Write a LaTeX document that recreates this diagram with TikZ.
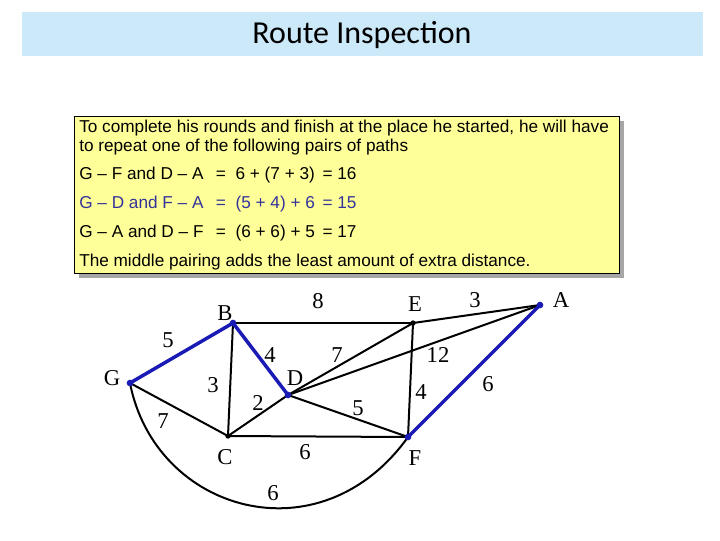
\documentclass[tikz,border=0pt]{standalone}
\usepackage{fontspec}
\setmainfont{Liberation Serif}
\newfontfamily\arialf{Liberation Sans}
\newfontfamily\calf{Carlito}
\definecolor{band}{HTML}{CCE9F9}
\definecolor{note}{HTML}{FFFF99}
\definecolor{hl}{HTML}{333399}
\definecolor{eb}{HTML}{1A1AB4}
\begin{document}
\begin{tikzpicture}[x=0.75pt,y=-0.75pt,
  edge/.style={line width=1.5pt,black},
  bedge/.style={line width=2.6pt,eb},
  vx/.style={circle,fill=eb,inner sep=0pt,minimum size=5pt},
  kvx/.style={circle,fill=black,inner sep=0pt,minimum size=4pt},
  lab/.style={font=\fontsize{17}{17}\selectfont,inner sep=0pt},
  txt/.style={font=\arialf\fontsize{12.9}{15}\selectfont,anchor=west,inner sep=0pt}]
\useasboundingbox (0,0) rectangle (720,540);
\fill[white] (0,0) rectangle (720,540);
\node[fill=band,minimum width=681*0.75pt,minimum height=44*0.75pt,inner sep=0pt] (band) at (362.5,34) {};
\node[font=\calf\fontsize{24}{24}\selectfont] (title) at (362,35) {Route Inspection};
\fill[gray!70] (79,121) rectangle (624,278);
\node[draw=black,fill=note,minimum width=545*0.75pt,minimum height=157*0.75pt,inner sep=0pt] (box) at (346.5,194.5) {};
\node[txt] (t1) at (79,128) {To complete his rounds and finish at the place he started, he will have};
\node[txt] (t2) at (79,147) {to repeat one of the following pairs of paths};
\node[txt] (t3) at (79,175) {G – F and D – A \ \,= \ 6 + (7 + 3) \,= 16};
\node[txt,text=hl] (t4) at (79,204) {G – D and F – A \ \,= \ (5 + 4) + 6 \,= 15};
\node[txt] (t5) at (79,233) {G – A and D – F \ \,= \ (6 + 6) + 5 \,= 17};
\node[txt] (t6) at (79,262) {The middle pairing adds the least amount of extra distance.};
\coordinate (G) at (130,383);
\coordinate (B) at (233,323);
\coordinate (E) at (413,323);
\coordinate (A) at (540,305);
\coordinate (D) at (288,395);
\coordinate (C) at (228,436);
\coordinate (F) at (408,437);
\draw[edge] (B) -- (E);
\draw[edge] (E) -- (A);
\draw[edge] (D) -- (A);
\draw[edge] (D) -- (E);
\draw[edge] (B) -- (C);
\draw[edge] (G) -- (C);
\draw[edge] (C) -- (D);
\draw[edge] (D) -- (F);
\draw[edge] (C) -- (F);
\draw[edge] (E) -- (F);
\draw[edge] (G) .. controls (155,512) and (320,560) .. (F);
\draw[bedge] (G) -- (B);
\draw[bedge] (B) -- (D);
\draw[bedge] (F) -- (A);
\foreach \v in {G,B,D,F,A} \node[vx] at (\v) {};
\foreach \v in {E,C} \node[kvx] at (\v) {};
\node[lab] (lG) at (112,378) {G};
\node[lab] (lB) at (225,313) {B};
\node[lab] (lE) at (415,304) {E};
\node[lab] (lA) at (561,300) {A};
\node[lab] (lD) at (295,378) {D};
\node[lab] (lC) at (225,457) {C};
\node[lab] (lF) at (415,458) {F};
\node[lab] (w1) at (168,340) {5};
\node[lab] (w2) at (318,301) {8};
\node[lab] (w3) at (475,300) {3};
\node[lab] (w4) at (270,355) {4};
\node[lab] (w5) at (337,355) {7};
\node[lab] (w6) at (438,355) {12};
\node[lab] (w7) at (213,385) {3};
\node[lab] (w8) at (258,403) {2};
\node[lab] (w9) at (358,408) {5};
\node[lab] (w10) at (421,392) {4};
\node[lab] (w11) at (488,384) {6};
\node[lab] (w12) at (163,421) {7};
\node[lab] (w13) at (305,452) {6};
\node[lab] (w14) at (273,493) {6};
\end{tikzpicture}
\end{document}
